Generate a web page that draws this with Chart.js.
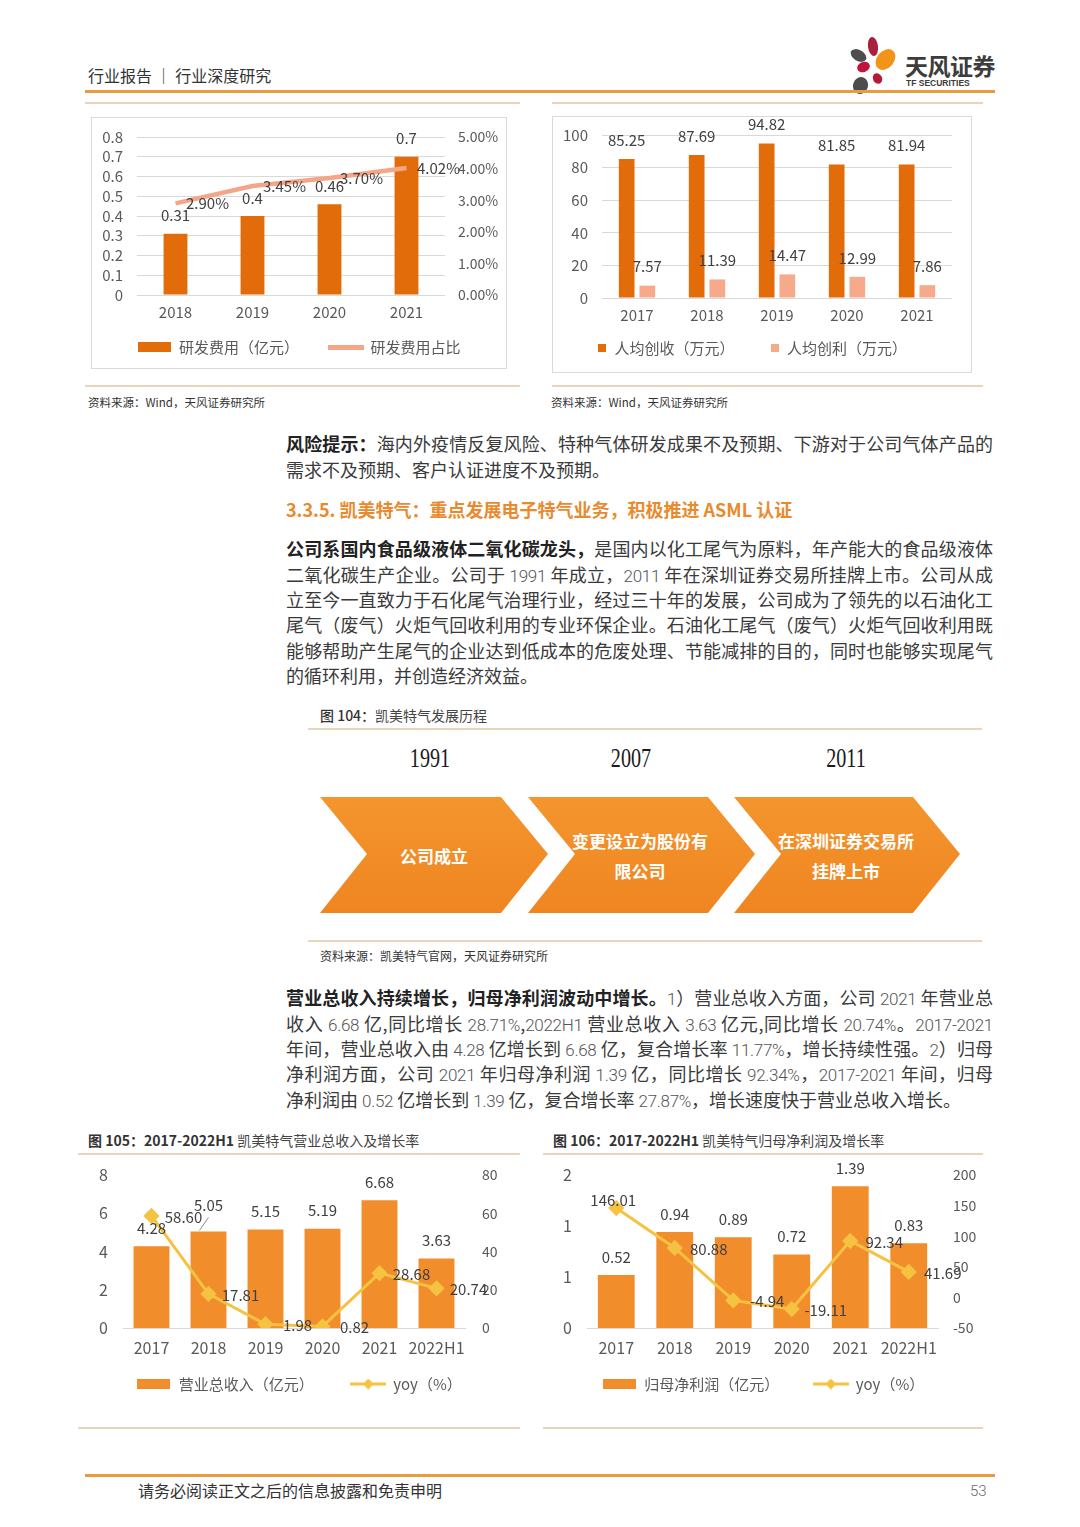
<!DOCTYPE html>
<html><head><meta charset="utf-8">
<script src="https://cdn.jsdelivr.net/npm/chart.js@4.4.1/dist/chart.umd.min.js"></script>
<style>
body{margin:0;background:#fff;}
#page{position:relative;width:1080px;height:1527px;background:#fff;overflow:hidden;font-family:"Noto Sans CJK SC","Noto Sans",sans-serif;color:#333;}
.abs{position:absolute;white-space:nowrap;}
.hl{position:absolute;height:2px;background:#EAD5BA;}
.ol{position:absolute;height:3px;background:#E99B3E;}
.txt{position:absolute;left:286px;width:707px;font-size:18px;color:#3a3a3a;}
.txt div{height:25.4px;line-height:25.4px;white-space:nowrap;text-align:justify;text-align-last:justify;}
.txt div.last{text-align-last:left;}
.n{font-family:Roboto,"Noto Sans",sans-serif;font-weight:300;color:#555;font-size:17px;letter-spacing:-0.3px;}
b{font-weight:700;color:#222;}
canvas{position:absolute;}
.box{position:absolute;border:1.5px solid #DADADA;box-sizing:border-box;}
.src{position:absolute;font-size:11.5px;color:#333;line-height:16px;white-space:nowrap;}
.arrow{position:absolute;top:797px;height:116px;background:linear-gradient(#F4952E,#EF8521);}
.atext{position:absolute;color:#fff;font-weight:700;font-size:17px;line-height:30px;text-align:center;white-space:nowrap;}
.year{position:absolute;top:742px;font-family:"Liberation Serif","DejaVu Serif",serif;font-size:28px;line-height:32px;color:#1a1a1a;transform:scaleX(0.72);width:100px;text-align:center;}
.ftitle{position:absolute;font-size:14px;line-height:20px;color:#444;white-space:nowrap;}
.ftitle b{color:#333;}
.petal{position:absolute;border-radius:50%;}
</style>
</head><body>
<div id="page">
  <!-- header -->
  <div class="abs" style="left:88px;top:63px;font-size:16px;line-height:24px;color:#333;">行业报告 ｜ 行业深度研究</div>
  <div class="petal" style="left:868px;top:37px;width:10px;height:19px;background:#A8203E;transform:rotate(-8deg);"></div>
  <div class="petal" style="left:877px;top:48px;width:17px;height:23px;background:#F29418;transform:rotate(40deg);"></div>
  <div class="petal" style="left:850px;top:50px;width:17px;height:11px;background:#4D4D4D;transform:rotate(30deg);"></div>
  <div class="petal" style="left:857px;top:62px;width:13px;height:10px;background:#C0143C;transform:rotate(-20deg);"></div>
  <div class="petal" style="left:853px;top:77px;width:15px;height:17px;background:#4D4D4D;transform:rotate(20deg);"></div>
  <div class="petal" style="left:873px;top:73px;width:9px;height:11px;background:#B51A3A;transform:rotate(-25deg);"></div>
  <div class="abs" style="left:905px;top:51px;font-size:23px;line-height:28px;font-weight:700;color:#3C3C3C;letter-spacing:-0.5px;">天风证券</div>
  <div class="abs" style="left:906px;top:78px;font-size:8.5px;line-height:10px;font-weight:700;color:#3C3C3C;font-family:'Liberation Sans',sans-serif;">TF SECURITIES</div>
  <div class="ol" style="left:85px;top:90px;width:910px;"></div>

  <!-- top charts -->
  <div class="hl" style="left:85px;top:102px;width:435px;"></div>
  <div class="hl" style="left:552px;top:102px;width:431px;"></div>
  <div class="box" style="left:91px;top:117px;width:416px;height:252px;"></div>
  <div class="box" style="left:552px;top:116px;width:420px;height:257px;"></div>
  <canvas id="c1" width="414" height="250" style="left:92px;top:118px;"></canvas>
  <canvas id="c2" width="419" height="255" style="left:553px;top:117px;"></canvas>
  <div class="hl" style="left:85px;top:385px;width:435px;"></div>
  <div class="hl" style="left:552px;top:385px;width:431px;"></div>
  <div class="src" style="left:88px;top:394px;">资料来源：Wind，天风证券研究所</div>
  <div class="src" style="left:551px;top:394px;">资料来源：Wind，天风证券研究所</div>

  <!-- paragraph 1 -->
  <div class="txt numfix" style="top:431.3px;">
    <div><b>风险提示：</b>海内外疫情反复风险、特种气体研发成果不及预期、下游对于公司气体产品的</div>
    <div class="last">需求不及预期、客户认证进度不及预期。</div>
  </div>
  <div class="abs" style="left:286px;top:496px;font-size:18px;line-height:26px;font-weight:700;color:#E98A2E;">3.3.5. 凯美特气：重点发展电子特气业务，积极推进 ASML 认证</div>
  <div class="txt numfix" style="top:536.3px;">
    <div><b>公司系国内食品级液体二氧化碳龙头，</b>是国内以化工尾气为原料，年产能大的食品级液体</div>
    <div>二氧化碳生产企业。公司于 1991 年成立，2011 年在深圳证券交易所挂牌上市。公司从成</div>
    <div>立至今一直致力于石化尾气治理行业，经过三十年的发展，公司成为了领先的以石油化工</div>
    <div>尾气（废气）火炬气回收利用的专业环保企业。石油化工尾气（废气）火炬气回收利用既</div>
    <div>能够帮助产生尾气的企业达到低成本的危废处理、节能减排的目的，同时也能够实现尾气</div>
    <div class="last">的循环利用，并创造经济效益。</div>
  </div>

  <!-- figure 104 -->
  <div class="ftitle" style="left:320px;top:705px;"><span style="font-weight:500;color:#333;">图 104：</span>凯美特气发展历程</div>
  <div class="hl" style="left:308px;top:728px;width:674px;"></div>
  <div class="year" style="left:380px;">1991</div>
  <div class="year" style="left:581px;">2007</div>
  <div class="year" style="left:796px;">2011</div>
  <div class="arrow" style="left:320px;width:228px;clip-path:polygon(0 0,181px 0,228px 57px,181px 116px,0 116px,47px 57px);"></div>
  <div class="arrow" style="left:528px;width:227px;clip-path:polygon(0 0,180px 0,227px 57px,180px 116px,0 116px,47px 57px);"></div>
  <div class="arrow" style="left:734px;width:226px;clip-path:polygon(0 0,179px 0,226px 57px,179px 116px,0 116px,47px 57px);"></div>
  <div class="atext" style="left:334px;width:200px;top:841px;">公司成立</div>
  <div class="atext" style="left:540px;width:200px;top:826px;">变更设立为股份有<br>限公司</div>
  <div class="atext" style="left:746px;width:200px;top:826px;">在深圳证券交易所<br>挂牌上市</div>
  <div class="hl" style="left:308px;top:940px;width:674px;"></div>
  <div class="src" style="left:320px;top:948px;font-size:12px;">资料来源：凯美特气官网，天风证券研究所</div>

  <!-- paragraph 3 -->
  <div class="txt numfix" style="top:985.3px;">
    <div><b>营业总收入持续增长，归母净利润波动中增长。</b>1）营业总收入方面，公司 2021 年营业总</div>
    <div>收入 6.68 亿,同比增长 28.71%,2022H1 营业总收入 3.63 亿元,同比增长 20.74%。2017-2021</div>
    <div>年间，营业总收入由 4.28 亿增长到 6.68 亿，复合增长率 11.77%，增长持续性强。2）归母</div>
    <div>净利润方面，公司 2021 年归母净利润 1.39 亿，同比增长 92.34%，2017-2021 年间，归母</div>
    <div class="last">净利润由 0.52 亿增长到 1.39 亿，复合增长率 27.87%，增长速度快于营业总收入增长。</div>
  </div>

  <!-- bottom charts -->
  <div class="ftitle" style="left:88px;top:1130px;"><b>图 105：2017-2022H1</b> 凯美特气营业总收入及增长率</div>
  <div class="ftitle" style="left:553px;top:1130px;"><b>图 106：2017-2022H1</b> 凯美特气归母净利润及增长率</div>
  <div class="hl" style="left:78px;top:1153px;width:442px;"></div>
  <div class="hl" style="left:543px;top:1153px;width:440px;"></div>
  <canvas id="c3" width="442" height="250" style="left:78px;top:1158px;"></canvas>
  <canvas id="c4" width="440" height="250" style="left:543px;top:1158px;"></canvas>
  <div class="hl" style="left:78px;top:1427px;width:442px;"></div>
  <div class="hl" style="left:543px;top:1427px;width:440px;"></div>

  <!-- footer -->
  <div class="ol" style="left:85px;top:1474px;width:910px;"></div>
  <div class="abs" style="left:138px;top:1478px;font-size:16px;line-height:24px;color:#333;">请务必阅读正文之后的信息披露和免责申明</div>
  <div class="abs" style="left:970px;top:1479px;font-size:15px;line-height:24px;color:#666;font-family:Roboto,sans-serif;font-weight:300;">53</div>
</div>

<script>
// ---------- data ----------
const rdYears = ['2018', '2019', '2020', '2021'];
const rdExpense = [0.31, 0.40, 0.46, 0.70];
const rdRatio = [2.90, 3.45, 3.70, 4.02];

const perYears = ['2017', '2018', '2019', '2020', '2021'];
const perRevenue = [85.25, 87.69, 94.82, 81.85, 81.94];
const perProfit = [7.57, 11.39, 14.47, 12.99, 7.86];

const finYears = ['2017', '2018', '2019', '2020', '2021', '2022H1'];
const revenue = [4.28, 5.05, 5.15, 5.19, 6.68, 3.63];
const revenueYoy = [58.60, 17.81, 1.98, 0.82, 28.68, 20.74];
const netProfit = [0.52, 0.94, 0.89, 0.72, 1.39, 0.83];
const netProfitYoy = [146.01, 80.88, -4.94, -19.11, 92.34, 41.69];

// ---------- text digit styling ----------
document.querySelectorAll('.numfix').forEach(el => {
  el.innerHTML = el.innerHTML.replace(/(\d[\d.%\-H]*)/g, '<span class="n">$1</span>');
});

const FONT = '"Noto Sans CJK SC","Noto Sans",sans-serif';
const GREY = '#595959';
const LABEL = '#404040';

function swRect(w, h, color) {
  const c = document.createElement('canvas'); c.width = w; c.height = h;
  const x = c.getContext('2d'); x.fillStyle = color; x.fillRect(0, 0, w, h); return c;
}
function swLine(w, h, lw, color, diamond) {
  const c = document.createElement('canvas'); c.width = w; c.height = h;
  const x = c.getContext('2d'); x.fillStyle = color;
  x.fillRect(0, h / 2 - lw / 2, w, lw);
  if (diamond) {
    x.beginPath(); x.moveTo(w / 2, 0); x.lineTo(w / 2 + h / 2, h / 2); x.lineTo(w / 2, h); x.lineTo(w / 2 - h / 2, h / 2); x.closePath(); x.fill();
  }
  return c;
}

const valueLabels = {
  id: 'valueLabels',
  afterDatasetsDraw(chart) {
    const ctx = chart.ctx;
    chart.data.datasets.forEach((ds, i) => {
      const cfg = ds.vl; if (!cfg) return;
      const meta = chart.getDatasetMeta(i);
      ctx.save();
      ctx.font = (cfg.size || 15) + 'px ' + FONT;
      ctx.fillStyle = LABEL;
      ctx.textAlign = 'center'; ctx.textBaseline = 'middle';
      meta.data.forEach((el, j) => {
        const o = (cfg.offsets && cfg.offsets[j]) || cfg.offset;
        ctx.fillText(cfg.fmt(ds.data[j]), el.x + o[0], el.y + o[1]);
        if (cfg.leaders && cfg.leaders[j]) {
          const L = cfg.leaders[j];
          ctx.strokeStyle = '#8C8C8C'; ctx.lineWidth = 1;
          ctx.beginPath(); ctx.moveTo(el.x + L[0], el.y + L[1]); ctx.lineTo(el.x + L[2], el.y + L[3]); ctx.stroke();
        }
      });
      ctx.restore();
    });
  }
};

function legendOpts(swatches, padding, psw) {
  return {
    position: 'bottom',
    labels: {
      usePointStyle: true, pointStyleWidth: psw, padding: padding,
      font: { size: 15, family: FONT }, color: GREY,
      generateLabels(chart) {
        return chart.data.datasets.map((ds, i) => ({
          text: ds.label, pointStyle: swatches[i], fillStyle: 'rgba(0,0,0,0)', strokeStyle: 'rgba(0,0,0,0)',
          lineWidth: 0, hidden: false, datasetIndex: i, fontColor: GREY
        }));
      }
    }
  };
}
const tickFont = s => ({ size: s, family: FONT });
const fixY = w => function (s) { s.width = w; s.paddingTop = 0; s.paddingBottom = 0; };
const fixX = h => function (s) { s.height = h; };

// ---------- chart 1 ----------
new Chart(document.getElementById('c1'), {
  type: 'bar',
  data: {
    labels: rdYears,
    datasets: [
      { label: '研发费用（亿元）', data: rdExpense, backgroundColor: '#E36C0A', yAxisID: 'y', order: 2,
        barPercentage: 0.31, categoryPercentage: 1, vl: { offset: [0, -18], fmt: v => String(v) } },
      { type: 'line', label: '研发费用占比', data: rdRatio, borderColor: '#F4A688', borderWidth: 4.5,
        pointRadius: 0, yAxisID: 'y2', order: 1, vl: { offset: [32, 0], fmt: v => v.toFixed(2) + '%' } }
    ]
  },
  options: {
    responsive: false, animation: false,
    layout: { padding: { top: 19, bottom: 3.5, left: 0, right: 0 } },
    plugins: { legend: legendOpts([swRect(33, 10, '#E36C0A'), swLine(36, 5, 5, '#F4A688', false)], 30, 34), tooltip: { enabled: false } },
    scales: {
      x: { grid: { display: false, drawTicks: false }, border: { display: false },
        ticks: { mirror: true, padding: -26, maxRotation: 0, minRotation: 0, autoSkip: false, font: tickFont(15), color: GREY }, afterFit: fixX(14.5) },
      y: { min: 0, max: 0.8, grid: { color: '#D9D9D9', drawTicks: false }, border: { display: false },
        ticks: { stepSize: 0.1, autoSkip: false, padding: 14, font: tickFont(15), color: GREY, callback: v => v === 0 ? '0' : v.toFixed(1) },
        afterFit: fixY(45) },
      y2: { position: 'right', min: 0, max: 5, grid: { display: false, drawTicks: false }, border: { display: false },
        ticks: { stepSize: 1, autoSkip: false, padding: 13, font: tickFont(14), color: GREY, callback: v => v.toFixed(2) + '%' },
        afterFit: fixY(61) }
    }
  },
  plugins: [valueLabels]
});

// ---------- chart 2 ----------
new Chart(document.getElementById('c2'), {
  type: 'bar',
  data: {
    labels: perYears,
    datasets: [
      { label: '人均创收（万元）', data: perRevenue, backgroundColor: '#E36C0A', barPercentage: 0.76, categoryPercentage: 0.59,
        vl: { offset: [0, -19], fmt: v => v.toFixed(2) } },
      { label: '人均创利（万元）', data: perProfit, backgroundColor: '#F6A98B', barPercentage: 0.76, categoryPercentage: 0.59,
        vl: { offset: [0, -19], fmt: v => v.toFixed(2) } }
    ]
  },
  options: {
    responsive: false, animation: false,
    layout: { padding: { top: 18, bottom: 6.5, left: 0, right: 20 } },
    plugins: { legend: legendOpts([swRect(8, 8, '#E36C0A'), swRect(8, 8, '#F6A98B')], 36, 9), tooltip: { enabled: false } },
    scales: {
      x: { grid: { display: false, drawTicks: false }, border: { display: false },
        ticks: { mirror: true, padding: -26, maxRotation: 0, minRotation: 0, autoSkip: false, font: tickFont(15), color: GREY }, afterFit: fixX(6.5) },
      y: { min: 0, max: 100, grid: { color: '#D9D9D9', drawTicks: false }, border: { display: false },
        ticks: { stepSize: 20, autoSkip: false, padding: 14, font: tickFont(15), color: GREY },
        afterFit: fixY(49) }
    }
  },
  plugins: [valueLabels]
});

// ---------- chart 3 (fig 105) ----------
const BAR2 = '#F28D2B';
const YEL = '#F5C242';
new Chart(document.getElementById('c3'), {
  type: 'bar',
  data: {
    labels: finYears,
    datasets: [
      { label: '营业总收入（亿元）', data: revenue, backgroundColor: BAR2, yAxisID: 'y', order: 2,
        barPercentage: 0.63, categoryPercentage: 1,
        vl: { offset: [0, -18], offsets: [null, [0, -26]], leaders: [null, [-9, -1, 0, -14]], fmt: v => v.toFixed(2) } },
      { type: 'line', label: 'yoy（%）', data: revenueYoy, borderColor: YEL, borderWidth: 3, yAxisID: 'y2', order: 1,
        pointStyle: 'rectRot', pointRadius: 6, pointBackgroundColor: YEL, pointBorderColor: YEL,
        vl: { offset: [32, 1], fmt: v => v.toFixed(2) } }
    ]
  },
  options: {
    responsive: false, animation: false,
    layout: { padding: { top: 17, bottom: 6.5, left: 0, right: 0 } },
    plugins: { legend: legendOpts([swRect(33, 10, BAR2), swLine(36, 11, 3, YEL, true)], 37, 35), tooltip: { enabled: false } },
    scales: {
      x: { grid: { display: false, drawTicks: false }, border: { display: true, color: '#D9D9D9', width: 1 },
        ticks: { mirror: true, padding: -29.6, maxRotation: 0, minRotation: 0, autoSkip: false, font: tickFont(16), color: GREY }, afterFit: fixX(11.5) },
      y: { min: 0, max: 8, grid: { display: false, drawTicks: false }, border: { display: false },
        ticks: { stepSize: 2, autoSkip: false, padding: 15, font: tickFont(16), color: GREY }, afterFit: fixY(45) },
      y2: { position: 'right', min: 0, max: 80, grid: { display: false, drawTicks: false }, border: { display: false },
        ticks: { stepSize: 20, autoSkip: false, padding: 17, font: tickFont(14), color: GREY }, afterFit: fixY(55) }
    }
  },
  plugins: [valueLabels]
});

// ---------- chart 4 (fig 106) ----------
new Chart(document.getElementById('c4'), {
  type: 'bar',
  data: {
    labels: finYears,
    datasets: [
      { label: '归母净利润（亿元）', data: netProfit, backgroundColor: BAR2, yAxisID: 'y', order: 2,
        barPercentage: 0.63, categoryPercentage: 1,
        vl: { offset: [0, -18], fmt: v => v.toFixed(2) } },
      { type: 'line', label: 'yoy（%）', data: netProfitYoy, borderColor: YEL, borderWidth: 3, yAxisID: 'y2', order: 1,
        pointStyle: 'rectRot', pointRadius: 6, pointBackgroundColor: YEL, pointBorderColor: YEL,
        vl: { offset: [34, 1], offsets: [[-3, -8]], fmt: v => v.toFixed(2) } }
    ]
  },
  options: {
    responsive: false, animation: false,
    layout: { padding: { top: 17, bottom: 6.5, left: 0, right: 0 } },
    plugins: { legend: legendOpts([swRect(33, 10, BAR2), swLine(36, 11, 3, YEL, true)], 34, 35), tooltip: { enabled: false } },
    scales: {
      x: { grid: { display: false, drawTicks: false }, border: { display: true, color: '#D9D9D9', width: 1 },
        ticks: { mirror: true, padding: -29.6, maxRotation: 0, minRotation: 0, autoSkip: false, font: tickFont(16), color: GREY }, afterFit: fixX(14.5) },
      y: { min: 0, max: 1.5, grid: { display: false, drawTicks: false }, border: { display: false },
        ticks: { stepSize: 0.5, autoSkip: false, padding: 15, font: tickFont(16), color: GREY, callback: v => String(Math.round(v)) },
        afterFit: fixY(44) },
      y2: { position: 'right', min: -50, max: 200, grid: { display: false, drawTicks: false }, border: { display: false },
        ticks: { stepSize: 50, autoSkip: false, padding: 15, font: tickFont(14), color: GREY }, afterFit: fixY(45) }
    }
  },
  plugins: [valueLabels]
});
</script>
</body></html>
